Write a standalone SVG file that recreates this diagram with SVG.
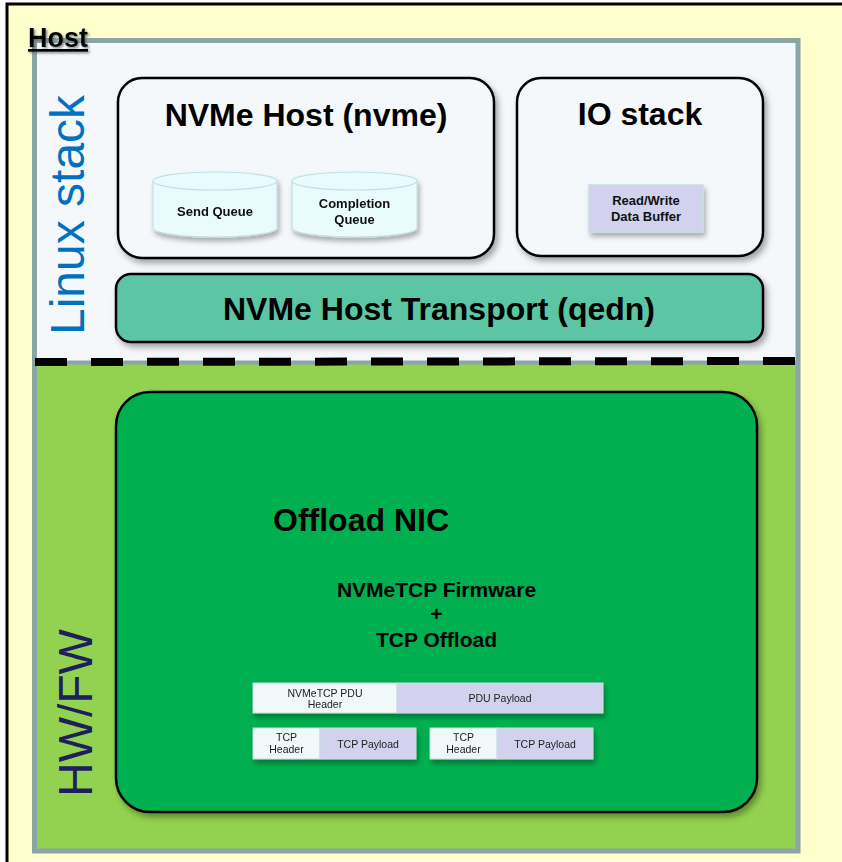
<svg xmlns="http://www.w3.org/2000/svg" width="842" height="862" viewBox="0 0 842 862">
  <defs>
    <filter id="shadow" x="-10%" y="-10%" width="125%" height="130%">
      <feDropShadow dx="3" dy="4" stdDeviation="3" flood-color="#000" flood-opacity="0.35"/>
    </filter>
    <filter id="softShadow" x="-10%" y="-10%" width="125%" height="140%">
      <feDropShadow dx="2" dy="4" stdDeviation="2.5" flood-color="#000" flood-opacity="0.3"/>
    </filter>
    <filter id="textShadow" x="-10%" y="-20%" width="130%" height="150%">
      <feDropShadow dx="1.5" dy="1.5" stdDeviation="0.8" flood-color="#555" flood-opacity="0.7"/>
    </filter>
  </defs>
  <style>
    text { font-family: "Liberation Sans", Arial, sans-serif; }
    .title { font-size: 32px; font-weight: bold; fill: #000; text-anchor: middle; }
    .sub { font-size: 21px; font-weight: bold; fill: #000; text-anchor: middle; }
    .small { font-size: 13px; font-weight: bold; fill: #111; text-anchor: middle; }
    .pdu { font-size: 10.5px; fill: #222; text-anchor: middle; }
    .side { font-size: 48px; }
    .box { stroke: #000; stroke-width: 2.5; }
    .cyl { fill: #EAFBFD; stroke: #C3DFE3; stroke-width: 1.2; }
    .hdr { fill: #F0F8F8; stroke: #C8DEDE; stroke-width: 1; }
    .pay { fill: #D2D2EF; stroke: #C8DEDE; stroke-width: 1; }
  </style>

  <!-- page background with outer border -->
  <rect x="7" y="4" width="900" height="900" fill="#FFFFCC" stroke="#000" stroke-width="3"/>

  <!-- host frame: software area above, hardware area below -->
  <g id="host-frame">
    <rect x="35" y="41" width="763" height="321" fill="#F5F8FB"/>
    <rect x="35" y="362" width="763" height="489" fill="#93D250"/>
    <rect x="34.5" y="40.5" width="763.5" height="810.5" fill="none" stroke="#8BA5A7" stroke-width="5"/>
    <line x1="35" y1="362.5" x2="798" y2="362.5" stroke="#8BA5A7" stroke-width="4"/>
  </g>

  <!-- separator between software and hardware -->
  <g id="connectors">
    <line x1="35" y1="362" x2="798" y2="361" stroke="#000" stroke-width="8" stroke-dasharray="32 24"/>
  </g>

  <g id="host-label">
    <text x="28" y="47" font-size="27" font-weight="bold" fill="#000" text-decoration="underline" filter="url(#textShadow)">Host</text>
  </g>

  <g id="linux-stack-label">
    <text class="side" transform="translate(84,335) rotate(-90)" fill="#0070C0">Linux stack</text>
  </g>

  <g id="hwfw-label">
    <text class="side" transform="translate(92,797) rotate(-90)" fill="#1F1F5C">HW/FW</text>
  </g>

  <!-- NVMe host with its queues -->
  <g id="nvme-host">
    <rect class="box" x="118" y="78" width="376" height="180" rx="24" fill="#F5F8FB" filter="url(#shadow)"/>
    <text class="title" x="306" y="126">NVMe Host (nvme)</text>
  </g>

  <g id="send-queue" filter="url(#softShadow)">
    <path class="cyl" d="M153,181 V228 A62,9 0 0 0 277,228 V181"/>
    <ellipse class="cyl" cx="215" cy="181" rx="62" ry="9"/>
    <text class="small" x="215" y="216">Send Queue</text>
  </g>

  <g id="completion-queue" filter="url(#softShadow)">
    <path class="cyl" d="M292,181 V228 A62.5,9 0 0 0 417,228 V181"/>
    <ellipse class="cyl" cx="354.5" cy="181" rx="62.5" ry="9"/>
    <text class="small" x="354.5" y="207.5">Completion</text>
    <text class="small" x="354.5" y="223.5">Queue</text>
  </g>

  <!-- IO stack -->
  <g id="io-stack">
    <rect class="box" x="517" y="78" width="246" height="178" rx="24" fill="#F5F8FB" filter="url(#shadow)"/>
    <text class="title" x="640" y="125">IO stack</text>
  </g>

  <g id="rw-buffer">
    <rect x="589" y="185" width="114" height="47" fill="#D2D2EF" stroke="#C8DEDE" stroke-width="1.5" filter="url(#softShadow)"/>
    <text class="small" x="646" y="204.5">Read/Write</text>
    <text class="small" x="646" y="220.5">Data Buffer</text>
  </g>

  <!-- transport layer -->
  <g id="nvme-transport">
    <rect class="box" x="116" y="274" width="647" height="68" rx="15" fill="#5BC6A4" filter="url(#shadow)"/>
    <text class="title" x="439" y="320">NVMe Host Transport (qedn)</text>
  </g>

  <!-- offload NIC -->
  <g id="offload-nic">
    <rect class="box" x="116" y="392" width="641" height="420" rx="34" fill="#00AF50" filter="url(#shadow)"/>
    <text class="title" x="273" y="531" text-anchor="start" style="text-anchor:start">Offload NIC</text>
    <text class="sub" x="436.5" y="597">NVMeTCP Firmware</text>
    <text class="sub" x="436.5" y="621">+</text>
    <text class="sub" x="436.5" y="647">TCP Offload</text>
  </g>

  <!-- NVMeTCP PDU -->
  <g id="pdu" filter="url(#softShadow)">
    <rect class="hdr" x="253" y="683" width="144" height="30"/>
    <rect class="pay" x="397" y="683" width="206" height="30"/>
    <text class="pdu" x="325" y="696.5">NVMeTCP PDU</text>
    <text class="pdu" x="325" y="707.5">Header</text>
    <text class="pdu" x="500" y="702">PDU Payload</text>
  </g>

  <!-- TCP segments -->
  <g id="tcp-segment-1" filter="url(#softShadow)">
    <rect class="hdr" x="253" y="728" width="67" height="31"/>
    <rect class="pay" x="320" y="728" width="96" height="31"/>
    <text class="pdu" x="286.5" y="740.5">TCP</text>
    <text class="pdu" x="286.5" y="753">Header</text>
    <text class="pdu" x="368" y="748">TCP Payload</text>
  </g>

  <g id="tcp-segment-2" filter="url(#softShadow)">
    <rect class="hdr" x="430" y="728" width="67" height="31"/>
    <rect class="pay" x="497" y="728" width="96" height="31"/>
    <text class="pdu" x="463.5" y="740.5">TCP</text>
    <text class="pdu" x="463.5" y="753">Header</text>
    <text class="pdu" x="545" y="748">TCP Payload</text>
  </g>
</svg>
